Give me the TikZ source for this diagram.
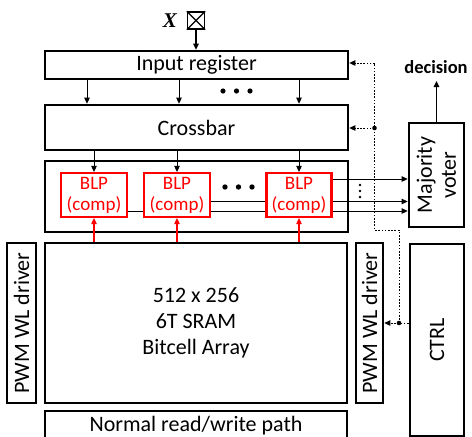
\documentclass[tikz,border=0pt]{standalone}
\usepackage{fontspec}
\setmainfont{Carlito}
\newfontfamily\xfont{Liberation Serif}
\usetikzlibrary{arrows.meta}
\begin{document}
\begin{tikzpicture}[x=1pt,y=-1pt,
  box/.style={draw, line width=2.7pt, inner sep=0pt, align=center, font=\fontsize{22}{26}\selectfont},
  rbox/.style={draw=red, line width=2.2pt, inner sep=0pt, text=red, align=center, font=\fontsize{19}{21}\selectfont},
  arr/.style={-{Triangle[length=6pt,width=5.5pt]}, line width=1pt},
  rarr/.style={arr, draw=red, fill=red, line width=1.1pt},
  ctl/.style={dash pattern=on 1.6pt off 1.6pt, line width=1pt},
  ctlarr/.style={ctl, -{Triangle[length=6pt,width=5.5pt]}},
  bus/.style={line width=1pt},
  xlabel/.style={font=\xfont\bfseries\itshape\fontsize{21}{21}\selectfont}
]
\useasboundingbox (0,0) rectangle (472,437);

% main blocks
\node[box, minimum width=303, minimum height=28] (inreg) at (196.5,65) {Input register};
\node[box, minimum width=303, minimum height=45] (xbar) at (196.5,127.5) {Crossbar};
\node[box, minimum width=303, minimum height=71] (blprow) at (196.5,196.5) {};
\node[box, minimum width=302, minimum height=160] (bca) at (196,323) {512 x 256\\6T SRAM\\Bitcell Array};
\node[box, minimum width=302, minimum height=30] (nrw) at (196,426) {Normal read/write path};
\node[box, minimum width=29, minimum height=160,
  label={[rotate=90, font=\fontsize{22}{26}\selectfont]center:PWM WL driver}] (pwmL) at (21.5,323) {};
\node[box, minimum width=27, minimum height=160,
  label={[rotate=90, font=\fontsize{22}{26}\selectfont]center:PWM WL driver}] (pwmR) at (369.5,323) {};
\node[box, minimum width=54, minimum height=192,
  label={[rotate=90, font=\fontsize{22}{26}\selectfont]center:CTRL}] (ctrl) at (437,340) {};
\node[box, minimum width=55, minimum height=104,
  label={[rotate=90, align=center, font=\fontsize{22}{24}\selectfont]center:Majority\\voter}] (voter) at (436.5,175) {};

% BLP units
\node[rbox, minimum width=66, minimum height=44] (blp1) at (94,195) {BLP\\(comp)};
\node[rbox, minimum width=66, minimum height=44] (blp2) at (177,195) {BLP\\(comp)};
\node[rbox, minimum width=65, minimum height=44] (blp3) at (299,195) {BLP\\(comp)};

% input X
\node[draw, line width=1.4pt, minimum size=17, inner sep=0pt] (xin) at (196,20.5) {};
\draw[line width=1.1pt] (xin.north west) -- (xin.south east) (xin.north east) -- (xin.south west);
\node[xlabel] (xlab) at (170,21) {X};
\draw[arr, line width=1.2pt] (xin.south) -- (xin.south |- inreg.north);

% decision
\node[font=\bfseries\fontsize{18.5}{20}\selectfont] (dec) at (436,67) {decision};
\coordinate (dectip) at (0,81);
\draw[arr, line width=1.2pt] (voter.north) -- (voter.north |- dectip);

% input register -> crossbar
\coordinate (a1) at (87,0);
\coordinate (a2) at (179,0);
\coordinate (a3) at (299,0);
\draw[arr] (inreg.south -| a1) -- (xbar.north -| a1);
\draw[arr] (inreg.south -| a2) -- (xbar.north -| a2);
\draw[arr] (inreg.south -| a3) -- (xbar.north -| a3);
\fill (223,91) circle (2.6pt) (236.5,91) circle (2.6pt) (250,91) circle (2.6pt);

% crossbar -> BLPs
\draw[arr] (xbar.south -| blp1) -- (blp1.north);
\draw[arr] (xbar.south -| blp2) -- (blp2.north);
\draw[arr] (xbar.south -| blp3) -- (blp3.north);
\fill (225,187) circle (2.7pt) (238.5,187) circle (2.7pt) (252,187) circle (2.7pt);

% bitcell array -> BLPs
\draw[rarr] (bca.north -| blp1) -- (blp1.south);
\draw[rarr] (bca.north -| blp2) -- (blp2.south);
\draw[rarr] (bca.north -| blp3) -- (blp3.south);

% BLP bus to voter
\coordinate (yA) at (0,211);
\coordinate (yB) at (0,201.5);
\coordinate (yC) at (0,179);
\draw[bus] (blp1.east |- yA) -- (blp2.west |- yA);
\draw[bus] (blp2.east |- yA) -- (blp3.west |- yA);
\draw[bus] (blp2.east |- yB) -- (blp3.west |- yB);
\draw[arr] (blp3.east |- yA) -- (voter.west |- yA);
\draw[arr] (blp3.east |- yB) -- (voter.west |- yB);
\draw[arr] (blp3.east |- yC) -- (voter.west |- yC);
\fill (360,185) circle (1.3pt) (360,191) circle (1.3pt) (360,197) circle (1.3pt);

% control lines
\coordinate (j1) at (374.5,63);
\coordinate (j2) at (374.5,128);
\coordinate (j3) at (374.5,230);
\coordinate (j4) at (399,230);
\coordinate (j5) at (399,323);
\draw[ctl] (ctrl.west |- j5) -- (j5);
\draw[ctlarr] (j5) -- (pwmR.east |- j5);
\draw[ctl] (j5) -- (j4) -- (j3) -- (j1);
\draw[ctlarr] (j1) -- (inreg.east |- j1);
\draw[ctlarr] (j2) -- (xbar.east |- j2);
\fill (j2) circle (2.3pt) (j5) circle (2.3pt);
\end{tikzpicture}
\end{document}
